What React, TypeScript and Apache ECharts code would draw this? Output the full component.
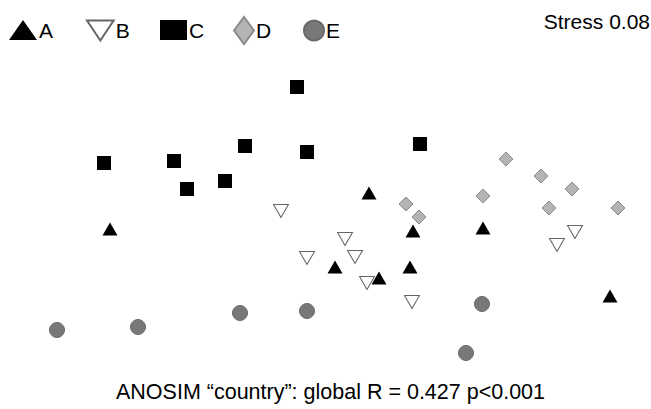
import React, { useEffect, useRef } from "react";
import * as echarts from "echarts";

// NMDS coordinates
const groupA: [number, number][] = [
  [-2.15, -0.24], [0.44, 0.12], [0.88, -0.26], [1.58, -0.23],
  [0.1, -0.62], [0.54, -0.73], [0.85, -0.62], [2.85, -0.91],
];
const groupB: [number, number][] = [
  [-0.44, -0.06], [0.2, -0.34], [0.3, -0.52], [-0.18, -0.53],
  [0.42, -0.78], [0.87, -0.97], [2.5, -0.27], [2.32, -0.4],
];
const groupC: [number, number][] = [
  [-0.28, 1.18], [-2.21, 0.42], [-1.51, 0.44], [-0.8, 0.59],
  [-0.18, 0.53], [0.95, 0.61], [-1.38, 0.16], [-1.0, 0.24],
];
const groupD: [number, number][] = [
  [0.81, 0.01], [0.94, -0.12], [1.81, 0.46], [2.16, 0.29],
  [2.47, 0.16], [1.58, 0.09], [2.24, -0.03], [2.93, -0.03],
];
const groupE: [number, number][] = [
  [-2.68, -1.25], [-1.87, -1.22], [-0.85, -1.08], [-0.18, -1.06],
  [1.57, -0.99], [1.41, -1.48],
];
const groupNames = ["A", "B", "C", "D", "E"];
const stressText = "Stress 0.08";
const captionText = "ANOSIM \u201Ccountry\u201D: global R = 0.427 p<0.001";

const FONT = "'Liberation Sans', Arial, sans-serif";

export default function App() {
  const ref = useRef<HTMLDivElement>(null);
  useEffect(() => {
    if (!ref.current) return;
    const chart = echarts.init(ref.current, undefined, { renderer: "svg" });
    const styles = [
      { symbol: "triangle", rotate: 0, size: [15, 13], color: "#000", border: "#000", bw: 0, icon: "triangle" },
      { symbol: "triangle", rotate: 180, size: [15, 13], color: "#fff", border: "#666", bw: 1, icon: "path://M0,0L20,0L10,15Z" },
      { symbol: "rect", rotate: 0, size: [14, 14], color: "#000", border: "#000", bw: 0, icon: "rect" },
      { symbol: "diamond", rotate: 0, size: [14, 14], color: "#b4b4b4", border: "#8a8a8a", bw: 1, icon: "diamond" },
      { symbol: "circle", rotate: 0, size: [15, 15], color: "#787878", border: "#6a6a6a", bw: 1, icon: "circle" },
    ];
    const datas = [groupA, groupB, groupC, groupD, groupE];
    const legendPos = [
      { left: 9, top: 19.5, w: 28, h: 20 },
      { left: 86, top: 19.5, w: 27, h: 20 },
      { left: 160, top: 19.5, w: 27, h: 20 },
      { left: 233, top: 16, w: 20, h: 27 },
      { left: 303, top: 19.5, w: 20, h: 20 },
    ];
    chart.setOption({
      animation: false,
      grid: { left: 0, right: 0, top: 0, bottom: 0 },
      xAxis: { type: "value", min: -3.25, max: 3.26, show: false },
      yAxis: { type: "value", min: -2.04, max: 2.05, show: false },
      legend: groupNames.map((n, i) => ({
        data: [{ name: n, icon: styles[i].icon }],
        left: legendPos[i].left,
        top: legendPos[i].top,
        itemWidth: legendPos[i].w,
        itemHeight: legendPos[i].h,
        symbolRotate: 0,
        padding: 0,
        selectedMode: false,
        textStyle: { fontSize: 21, fontFamily: FONT, color: "#000", padding: [0, 0, 0, -3] },
      })),
      graphic: [
        {
          type: "text",
          right: 1,
          top: 11,
          style: { text: stressText, fontSize: 21, fontFamily: FONT, fill: "#000" },
        },
        {
          type: "text",
          left: 116,
          top: 381,
          style: { text: captionText, fontSize: 21.5, fontFamily: FONT, fill: "#000" },
        },
      ],
      series: groupNames.map((n, i) => ({
        name: n,
        type: "scatter",
        data: datas[i],
        symbol: styles[i].symbol,
        symbolRotate: styles[i].rotate,
        symbolSize: styles[i].size,
        itemStyle: {
          color: styles[i].color,
          borderColor: styles[i].border,
          borderWidth: styles[i].bw,
          opacity: 1,
        },
      })),
    });
    return () => chart.dispose();
  }, []);
  return (
    <div
      ref={ref}
      style={{ position: "fixed", left: 0, top: 0, width: 651, height: 409, background: "#fff" }}
    />
  );
}
